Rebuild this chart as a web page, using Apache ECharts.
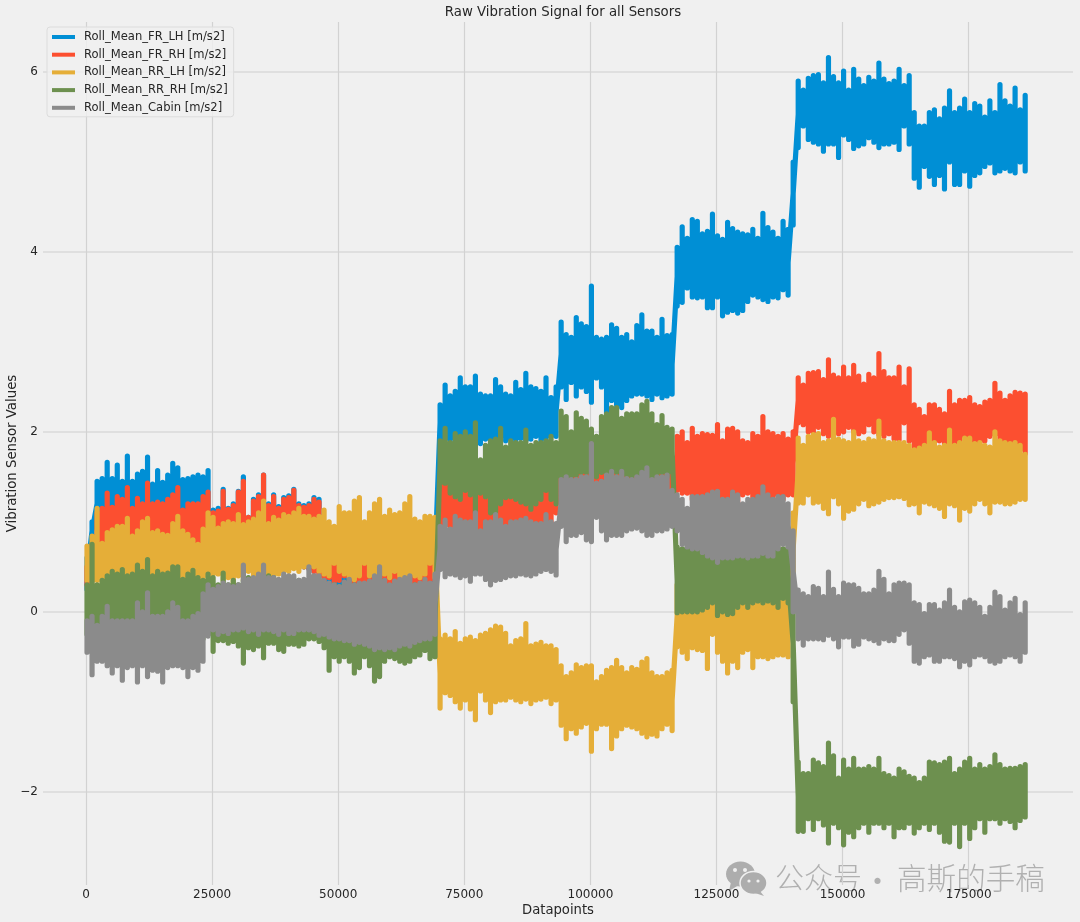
<!DOCTYPE html>
<html>
<head>
<meta charset="utf-8">
<style>html,body{margin:0;padding:0;background:#f0f0f0}#c{width:1080px;height:922px}</style>
<script src="https://cdn.jsdelivr.net/npm/echarts@6/dist/echarts.min.js"></script>
</head>
<body>
<div id="c"></div>
<script>
const chartTitle = 'Raw Vibration Signal for all Sensors';
const xTitle = 'Datapoints';
const yTitle = 'Vibration Sensor Values';
const xTicks = [0, 25000, 50000, 75000, 100000, 125000, 150000, 175000];
const yTicks = [-2, 0, 2, 4, 6];
const sensorNames = ['Roll_Mean_FR_LH [m/s2]', 'Roll_Mean_FR_RH [m/s2]', 'Roll_Mean_RR_LH [m/s2]', 'Roll_Mean_RR_RH [m/s2]', 'Roll_Mean_Cabin [m/s2]'];
const datapointStep = 1000; // one high/low pair per step

// Upper and lower edge of each sensor's trace, one value per step.
const frLhHigh = [
 .6,1.0,1.45,1.48,1.66,1.48,1.63,1.45,1.73,1.45,1.53,1.56,1.72,1.42,1.57,1.44,1.52,1.65,1.6,1.47,1.48,1.5,1.52,1.5,
 1.57,1.13,1.15,1.36,1.15,1.2,1.34,1.5,1.05,1.25,1.3,1.52,1.2,1.3,1.17,1.27,1.29,1.36,1.2,1.18,1.2,1.27,1.25,
 .95,.9,.9,.95,.9,.95,.9,.92,.9,.95,.9,.9,.92,.9,.95,.9,.9,.92,.95,.9,.9,.92,.95,
 2.3,2.52,2.4,2.45,2.6,2.5,2.5,2.62,2.42,2.4,2.4,2.58,2.5,2.42,2.4,2.55,2.47,2.65,2.5,2.48,2.45,2.6,2.38,2.5,
 3.22,3.08,3.05,3.27,3.2,3.17,3.62,3.05,3.03,3.05,3.19,3.15,3.05,3.08,3.0,3.18,3.3,3.12,3.12,3.05,3.25,3.07,3.08,
 4.05,4.28,4.15,4.36,4.34,4.2,4.23,4.42,4.18,4.14,4.33,4.26,4.22,4.2,4.19,4.25,4.15,4.43,4.27,4.22,4.15,4.34,4.25,4.3,
 5.9,5.8,5.93,5.96,5.97,5.88,6.16,5.95,5.88,6.01,5.8,6.03,5.92,5.85,5.94,5.9,6.1,5.92,5.87,5.9,6.03,5.85,5.96,
 5.55,5.4,5.4,5.55,5.58,5.48,5.6,5.79,5.55,5.6,5.7,5.55,5.65,5.62,5.5,5.68,5.55,5.86,5.68,5.62,5.82,5.58,5.74];
const frLhLow = [
 .25,.8,.95,.92,.9,.95,.9,.92,.95,.9,.92,.95,.9,.95,.9,.92,.95,.9,.92,.9,.95,.92,.9,.9,
 .5,.52,.5,.48,.5,.52,.5,.48,.5,.52,.5,.48,.5,.52,.5,.48,.5,.5,.52,.5,.48,.45,.4,
 .35,.24,.2,.3,.3,.27,.28,.25,.22,.3,.3,.28,.26,.3,.21,.28,.27,.22,.2,.24,.2,.22,.25,
 1.9,1.92,1.9,1.93,1.95,1.92,1.9,1.9,1.87,1.92,1.9,1.93,1.95,1.9,1.92,1.9,1.93,1.9,1.92,1.95,1.9,1.92,1.95,1.95,
 2.5,2.36,2.55,2.4,2.5,2.45,2.33,2.6,2.5,2.2,2.35,2.3,2.27,2.35,2.4,2.42,2.42,2.4,2.36,2.42,2.38,2.4,2.42,
 3.4,3.44,3.6,3.5,3.49,3.5,3.38,3.38,3.5,3.29,3.33,3.35,3.32,3.35,3.45,3.52,3.5,3.47,3.45,3.5,3.49,3.58,3.52,5.0,
 5.16,5.4,5.25,5.22,5.2,5.12,5.2,5.2,5.05,5.3,5.25,5.15,5.18,5.2,5.27,5.22,5.16,5.2,5.2,5.22,5.14,5.4,5.2,
 4.82,4.72,4.95,4.84,4.75,4.85,4.7,5.0,4.75,4.75,4.9,4.73,4.85,4.88,4.95,4.99,4.88,4.9,4.93,4.9,4.88,5.0,4.9];

const frRhHigh = [
 .5,.75,1.1,1.15,1.32,1.16,1.28,1.25,1.38,1.15,1.26,1.2,1.43,1.2,1.22,1.2,1.25,1.3,1.38,1.13,1.2,1.2,1.2,1.28,
 1.33,1.1,1.12,1.34,1.14,1.18,1.33,1.45,1.05,1.23,1.28,1.52,1.18,1.28,1.15,1.25,1.27,1.35,1.18,1.16,1.18,1.25,1.22,
 .9,.92,.9,.88,.9,.92,.9,.88,.9,.92,.9,.88,.9,.92,.9,.88,.9,.92,.9,.88,.9,.92,.9,
 1.5,1.52,1.5,1.48,1.5,1.52,1.5,1.48,1.5,1.52,1.5,1.48,1.5,1.52,1.5,1.48,1.5,1.52,1.5,1.48,1.5,1.52,1.5,1.6,
 1.75,1.72,1.75,1.78,1.75,1.72,2.0,1.75,1.78,1.75,1.72,1.75,1.78,1.75,1.72,1.75,1.78,1.75,1.72,1.75,1.78,1.75,1.72,
 1.95,2.0,1.88,2.04,1.95,1.98,1.97,1.96,2.08,1.9,2.03,2.04,2.0,1.9,1.88,1.98,1.95,2.17,2.0,1.98,1.95,1.98,1.92,2.0,
 2.6,2.52,2.65,2.66,2.67,2.58,2.8,2.63,2.6,2.72,2.6,2.74,2.62,2.53,2.64,2.6,2.87,2.67,2.6,2.6,2.72,2.5,2.7,
 2.3,2.25,2.17,2.3,2.3,2.25,2.2,2.45,2.3,2.35,2.35,2.38,2.3,2.28,2.33,2.35,2.54,2.43,2.35,2.4,2.44,2.43,2.42];
const frRhLow = [
 .3,.6,.62,.6,.65,.62,.6,.62,.65,.6,.62,.6,.65,.62,.6,.62,.65,.6,.62,.6,.65,.62,.6,.6,
 .5,.52,.5,.48,.5,.52,.5,.48,.5,.52,.5,.48,.5,.52,.5,.48,.5,.5,.52,.5,.48,.45,.4,
 .33,.38,.3,.35,.4,.3,.3,.3,.28,.35,.35,.33,.3,.32,.28,.3,.3,.27,.3,.32,.3,.34,.36,
 .95,.96,.95,.93,.95,.96,.95,.93,.9,.96,.95,.93,.95,.96,.85,.93,.95,.96,.95,.93,.95,.96,.95,1.1,
 1.2,1.22,1.2,1.18,1.2,1.22,1.2,1.18,1.2,1.22,1.2,1.18,1.2,1.22,1.2,1.18,1.2,1.22,1.2,1.18,1.2,1.22,1.3,
 1.35,1.32,1.32,1.25,1.3,1.25,1.28,1.2,1.2,1.25,1.2,1.25,1.2,1.3,1.32,1.25,1.25,1.2,1.25,1.25,1.3,1.25,1.3,1.3,
 2.1,2.08,2.0,2.0,2.05,1.98,1.95,2.1,1.98,2.0,2.05,2.0,1.98,2.0,2.08,2.0,1.97,1.95,1.98,1.92,1.91,2.1,1.9,
 1.8,1.78,1.78,1.85,1.85,1.9,1.82,1.85,1.85,1.9,1.95,1.9,1.85,1.85,1.9,1.95,1.97,1.9,1.85,1.85,1.82,1.8,1.76];

const rrLhHigh = [
 .73,.84,1.15,.76,.88,.91,.95,.95,1.04,.84,.9,1.0,1.04,.88,.9,.86,.85,.98,1.06,.9,.86,.8,.75,.92,
 1.1,1.05,.93,.98,1.0,.98,1.08,.97,1.0,1.03,1.1,1.23,.98,1.05,1.02,1.08,1.06,1.1,1.15,1.06,1.06,1.03,1.06,
 1.13,1.0,.95,1.17,1.1,1.1,1.23,1.27,1.0,1.1,1.2,1.25,1.06,1.13,1.08,1.1,1.2,1.28,1.03,1.0,1.06,1.06,1.05,
 -.3,-.26,-.3,-.22,-.35,-.3,-.28,-.32,-.26,-.24,-.2,-.16,-.17,-.24,-.38,-.32,-.3,-.13,-.38,-.36,-.34,-.38,-.38,-.42,
 -.6,-.72,-.68,-.59,-.62,-.6,-.6,-.78,-.72,-.65,-.62,-.54,-.62,-.68,-.62,-.64,-.56,-.52,-.68,-.72,-.72,-.68,-.65,
 .3,.28,.3,.32,.3,.28,.3,.41,.3,.28,.3,.32,.3,.28,.3,.32,.3,.28,.3,.32,.3,.28,.3,.3,
 1.93,1.85,1.95,1.97,1.98,1.88,1.9,2.14,1.92,1.9,1.88,2.0,1.9,1.88,1.92,1.9,2.12,1.9,1.88,1.88,1.88,1.88,1.85,
 1.8,1.82,1.85,1.99,1.88,1.83,1.85,2.02,1.85,1.88,1.93,1.93,1.87,1.88,1.85,1.83,2.0,1.9,1.88,1.87,1.88,1.85,1.75];
const rrLhLow = [
 .35,.3,.35,.32,.35,.36,.34,.35,.32,.35,.36,.34,.35,.32,.35,.36,.34,.35,.32,.35,.36,.34,.35,.36,
 .4,.42,.42,.35,.38,.3,.4,.35,.45,.4,.42,.4,.4,.38,.42,.45,.45,.48,.45,.5,.5,.5,.45,
 .42,.4,.54,.45,.42,.38,.36,.4,.54,.4,.38,.38,.42,.38,.45,.4,.38,.42,.4,.38,.42,.54,.38,
 -1.07,-.9,-.93,-1.0,-1.07,-.98,-1.08,-1.2,-.88,-.98,-1.12,-1.0,-.98,-.98,-.95,-.98,-1.0,-.97,-1.02,-.98,-.97,-.95,-1.02,-.98,
 -1.26,-1.41,-1.3,-1.35,-1.28,-1.24,-1.55,-1.3,-1.25,-1.25,-1.52,-1.38,-1.3,-1.26,-1.28,-1.3,-1.35,-1.39,-1.36,-1.38,-1.3,-1.25,-1.32,
 -.39,-.45,-.52,-.4,-.42,-.43,-.63,-.25,-.45,-.55,-.68,-.55,-.62,-.45,-.42,-.62,-.5,-.5,-.52,-.5,-.48,-.48,-.5,1.1,
 1.21,1.21,1.3,1.21,1.22,1.15,1.09,1.28,1.2,1.04,1.12,1.14,1.2,1.25,1.18,1.2,1.22,1.25,1.27,1.27,1.28,1.26,1.19,
 1.2,1.1,1.22,1.2,1.18,1.15,1.06,1.2,1.18,1.02,1.15,1.12,1.2,1.25,1.2,1.1,1.22,1.22,1.2,1.2,1.22,1.25,1.25];

const rrRhHigh = [
 .3,.75,.3,.35,.4,.45,.42,.47,.4,.42,.52,.45,.58,.4,.45,.42,.43,.5,.5,.36,.42,.46,.38,.35,
 .42,.38,.3,.43,.3,.35,.3,.35,.38,.3,.4,.38,.4,.38,.3,.35,.3,.32,.35,.3,.3,.3,.3,
 .3,.28,.3,.28,.3,.28,.3,.28,.3,.28,.3,.28,.3,.28,.3,.28,.3,.28,.3,.28,.3,.28,.3,
 1.9,2.04,1.88,1.98,1.95,2.0,1.95,2.1,1.69,1.85,1.9,1.92,2.04,1.83,1.9,1.88,1.88,2.02,1.85,1.88,1.88,1.9,1.95,1.88,
 2.23,2.17,2.0,2.21,2.15,2.12,2.03,1.95,2.17,2.2,2.27,2.27,2.15,2.2,2.2,2.2,2.3,2.34,2.2,2.08,2.18,2.05,2.03,
 .72,.7,.72,.7,.72,.7,.72,.8,.72,.7,.72,.7,.72,.7,.72,.7,.72,.7,.72,.7,.72,.7,.72,.3,
 -1.67,-1.8,-1.8,-1.65,-1.68,-1.72,-1.46,-1.6,-1.85,-1.65,-1.75,-1.63,-1.75,-1.75,-1.72,-1.75,-1.63,-1.8,-1.82,-1.85,-1.75,-1.78,-1.83,
 -1.85,-1.9,-1.85,-1.67,-1.68,-1.7,-1.67,-1.63,-1.8,-1.75,-1.67,-1.63,-1.75,-1.7,-1.75,-1.72,-1.59,-1.7,-1.75,-1.74,-1.74,-1.72,-1.7];
const rrRhLow = [
 -.25,-.3,-.28,-.3,-.32,-.3,-.28,-.3,-.32,-.3,-.28,-.3,-.32,-.3,-.28,-.3,-.32,-.3,-.28,-.3,-.32,-.3,-.28,-.3,
 -.25,-.44,-.32,-.32,-.35,-.33,-.38,-.57,-.4,-.42,-.38,-.51,-.35,-.35,-.42,-.44,-.36,-.36,-.38,-.36,-.3,-.3,-.33,
 -.4,-.65,-.5,-.55,-.5,-.55,-.68,-.62,-.5,-.6,-.77,-.72,-.55,-.5,-.52,-.55,-.57,-.55,-.5,-.48,-.43,-.52,-.5,
 1.43,1.43,1.32,1.28,1.25,1.35,1.3,1.1,1.32,1.28,1.1,1.1,1.2,1.27,1.28,1.25,1.22,1.2,1.14,1.2,1.25,1.35,1.25,1.2,
 1.5,1.5,1.5,1.52,1.55,1.55,1.5,1.5,1.55,1.5,1.55,1.55,1.52,1.52,1.5,1.52,1.5,1.5,1.5,1.5,1.55,1.5,1.55,
 -.01,0,0,0,0,.02,.05,.1,-.04,0,-.03,-.02,.05,.1,.05,.1,.12,.1,.12,.1,.05,.15,.1,-1,
 -2.44,-2.44,-2.3,-2.42,-2.3,-2.37,-2.57,-2.35,-2.4,-2.59,-2.45,-2.5,-2.4,-2.35,-2.45,-2.35,-2.35,-2.4,-2.35,-2.5,-2.4,-2.4,-2.35,
 -2.46,-2.4,-2.35,-2.42,-2.35,-2.45,-2.55,-2.56,-2.35,-2.61,-2.35,-2.52,-2.4,-2.3,-2.45,-2.3,-2.3,-2.35,-2.3,-2.33,-2.4,-2.32,-2.28];

const cabinHigh = [
 -.1,-.05,-.15,-.05,.06,-.1,-.1,-.1,-.1,-.1,.1,0,.21,-.05,-.05,-.05,0,.1,.05,-.1,-.1,-.05,-.02,.2,
 .3,.25,.28,.32,.3,.28,.3,.52,.36,.38,.42,.52,.38,.38,.36,.42,.4,.4,.35,.36,.5,.4,.4,
 .35,.32,.3,.28,.33,.36,.3,.32,.32,.34,.4,.5,.35,.3,.34,.36,.38,.4,.3,.32,.36,.32,.42,
 .95,1.02,.92,1.06,1.02,1.0,1.0,1.1,.9,1.0,1.0,1.08,1.02,.95,1.0,1.0,1.02,1.04,1.0,.98,.98,1.08,1.0,.98,
 1.47,1.5,1.47,1.47,1.5,1.5,1.87,1.43,1.45,1.52,1.56,1.5,1.56,1.48,1.47,1.5,1.55,1.6,1.47,1.5,1.5,1.52,1.35,
 1.3,1.25,1.15,1.28,1.28,1.28,1.3,1.33,1.34,1.25,1.25,1.33,1.3,1.2,1.25,1.25,1.28,1.39,1.3,1.25,1.28,1.28,1.2,.9,
 .24,.2,.17,.28,.26,.17,.44,.25,.17,.32,.3,.3,.26,.2,.2,.24,.45,.36,.2,.3,.32,.32,.3,
 .1,.08,-.02,.08,.08,.02,.1,.24,.05,0,.11,.13,.1,.05,-.05,.05,.22,.17,.02,.1,.15,-.03,.1];
const cabinLow = [
 -.45,-.7,-.55,-.55,-.6,-.68,-.6,-.76,-.62,-.6,-.78,-.6,-.72,-.65,-.66,-.78,-.62,-.6,-.6,-.62,-.72,-.62,-.65,-.55,
 -.27,-.2,-.25,-.22,-.24,-.2,-.2,-.18,-.22,-.2,-.25,-.2,-.2,-.22,-.25,-.2,-.24,-.24,-.2,-.2,-.2,-.22,-.26,
 -.25,-.28,-.3,-.3,-.32,-.32,-.36,-.34,-.36,-.38,-.42,-.4,-.42,-.4,-.42,-.38,-.36,-.38,-.34,-.32,-.3,-.3,-.25,
 .47,.39,.42,.41,.38,.4,.34,.42,.42,.36,.3,.35,.36,.38,.4,.4,.42,.41,.4,.42,.45,.47,.45,.41,
 .95,.78,.85,.85,.88,.8,.78,1.05,.9,.8,.85,.85,.85,.9,.92,.93,.9,.85,.85,.9,.9,.92,.95,
 .9,.75,.72,.7,.7,.66,.62,.6,.55,.6,.6,.6,.62,.62,.6,.62,.62,.65,.62,.62,.7,.75,.72,0,
 -.3,-.37,-.3,-.3,-.3,-.31,-.26,-.3,-.39,-.28,-.28,-.38,-.36,-.28,-.3,-.32,-.35,-.3,-.32,-.32,-.25,-.2,-.35,
 -.55,-.57,-.5,-.48,-.55,-.55,-.5,-.5,-.52,-.61,-.55,-.59,-.5,-.48,-.5,-.55,-.57,-.55,-.5,-.48,-.5,-.55,-.45];

const sensorColors = ['#008fd5', '#fc4f30', '#e5ae38', '#6d904f', '#8b8b8b'];
const highs = [frLhHigh, frRhHigh, rrLhHigh, rrRhHigh, cabinHigh];
const lows = [frLhLow, frRhLow, rrLhLow, rrRhLow, cabinLow];

highs.concat(lows).forEach((a, k) => { if (a.length !== 187) console.error('bad length', k, a.length); });

// Each step is one vertical stroke between its read high and low values;
// the pen enters and leaves the stroke at its middle, so the edges stay clean.
function trace(high, low) {
  const pts = [];
  high.forEach((h, i) => {
    const x = i * datapointStep + 200;
    const middle = (h + low[i]) / 2;
    pts.push([x, middle], [x, h], [x, low[i]], [x, middle]);
  });
  return pts;
}

const font = '"DejaVu Sans"';
const chart = echarts.init(document.getElementById('c'), null, { renderer: 'canvas' });
chart.setOption({
  animation: false,
  backgroundColor: '#f0f0f0',
  title: {
    text: chartTitle, left: 558, top: 1, textAlign: 'center',
    textStyle: { fontFamily: font, fontSize: 13.3, fontWeight: 'normal', color: '#262626' }
  },
  legend: {
    left: 47, top: 27, orient: 'vertical', padding: [3, 6, 2, 5], itemGap: 3.7,
    itemWidth: 23, itemHeight: 4, icon: 'rect', data: sensorNames,
    backgroundColor: 'rgba(240,240,240,0.8)', borderColor: '#dcdcdc', borderWidth: 1, borderRadius: 3,
    textStyle: { fontFamily: font, fontSize: 11.55, color: '#262626', padding: [0, 0, 0, 4], lineHeight: 14 }
  },
  grid: { left: 43, right: 7, top: 22, bottom: 37, containLabel: false, outerBoundsMode: 'none' },
  xAxis: {
    type: 'value', min: -8525, max: 195680,
    name: xTitle, nameLocation: 'middle', nameGap: 19, nameMoveOverlap: false,
    nameTextStyle: { fontFamily: font, fontSize: 13.2, color: '#262626' },
    axisLine: { show: false },
    axisTick: { show: false, customValues: xTicks },
    axisLabel: { customValues: xTicks, margin: 4, fontFamily: font, fontSize: 12, color: '#262626', formatter: v => String(v) },
    splitLine: { show: true, lineStyle: { color: '#d2d2d2', width: 1.2 } }
  },
  yAxis: {
    type: 'value', min: -3.037, max: 6.556,
    name: yTitle, nameLocation: 'middle', nameGap: 24, nameMoveOverlap: false,
    nameTextStyle: { fontFamily: font, fontSize: 13.3, color: '#262626' },
    axisLine: { show: false },
    axisTick: { show: false, customValues: yTicks },
    axisLabel: { customValues: yTicks, margin: 5, fontFamily: font, fontSize: 12, color: '#262626', formatter: v => String(v).replace('-', '\u2212') },
    splitLine: { show: true, lineStyle: { color: '#dadada', width: 1.6 } }
  },
  series: sensorNames.map((name, k) => ({
    name, type: 'line', showSymbol: false, symbol: 'none', sampling: false, large: false, silent: true,
    data: trace(highs[k], lows[k]), itemStyle: { color: sensorColors[k] },
    lineStyle: { color: sensorColors[k], width: 5.2, join: 'round', cap: 'round' },
    connectNulls: false
  })),
  graphic: [
    { type: 'ellipse', shape: { cx: 740.5, cy: 874, rx: 14.5, ry: 12.5 }, style: { fill: '#adadad' } },
    { type: 'polygon', shape: { points: [[731, 882], [729, 891], [739, 885]] }, style: { fill: '#adadad' } },
    { type: 'ellipse', shape: { cx: 753.5, cy: 883, rx: 13.5, ry: 11.5 }, style: { fill: '#adadad', stroke: '#f0f0f0', lineWidth: 1.5 } },
    { type: 'polygon', shape: { points: [[759, 890], [764, 896], [752, 892]] }, style: { fill: '#adadad' } },
    { type: 'circle', shape: { cx: 735, cy: 870, r: 2 }, style: { fill: '#f0f0f0' } },
    { type: 'circle', shape: { cx: 745, cy: 870, r: 2 }, style: { fill: '#f0f0f0' } },
    { type: 'circle', shape: { cx: 749, cy: 881, r: 1.6 }, style: { fill: '#f0f0f0' } },
    { type: 'circle', shape: { cx: 758, cy: 881, r: 1.6 }, style: { fill: '#f0f0f0' } },
    { type: 'text', x: 775, y: 863, style: { text: '公众号', fontFamily: '"Noto Sans CJK SC"', fontSize: 29, fontWeight: 300, fill: '#b0b0b0' } },
    { type: 'text', x: 863, y: 866, style: { text: '·', fontFamily: '"Noto Sans CJK SC"', fontSize: 29, fill: '#b0b0b0' } },
    { type: 'text', x: 897, y: 863, style: { text: '高斯的手稿', fontFamily: '"Noto Sans CJK SC"', fontSize: 29.6, fontWeight: 300, fill: '#b0b0b0' } }
  ]
});
</script>
</body>
</html>
